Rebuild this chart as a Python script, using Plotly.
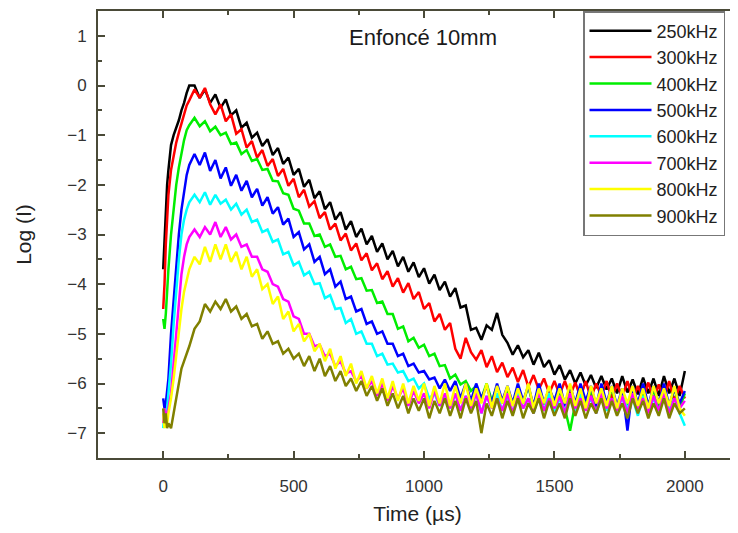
import plotly.graph_objects as go

# Time axis (µs)
T = [0, 5, 10, 15, 20, 30, 40, 50, 60, 70, 80, 90, 100,
     120, 140, 160, 180, 200, 220, 240, 260, 280, 300,
     320, 340, 360, 380, 400, 420, 440, 460, 480, 500,
     520, 540, 560, 580, 600, 620, 640, 660, 680, 700,
     720, 740, 760, 780, 800, 820, 840, 860, 880, 900,
     920, 940, 960, 980, 1000, 1020, 1040, 1060, 1080, 1100,
     1120, 1140, 1160, 1180, 1200, 1220, 1240, 1260, 1280, 1300,
     1320, 1340, 1360, 1380, 1400, 1420, 1440, 1460, 1480, 1500,
     1520, 1540, 1560, 1580, 1600, 1620, 1640, 1660, 1680, 1700,
     1720, 1740, 1760, 1780, 1800, 1820, 1840, 1860, 1880, 1900,
     1920, 1940, 1960, 1980, 2000]

f250 = [-3.7, -3.0, -2.4, -2.0, -1.7, -1.2, -1.0, -0.85, -0.7, -0.5, -0.35, -0.15, 0.0,
        0.0, -0.25, -0.08, -0.35, -0.18, -0.45, -0.28, -0.6, -0.5, -0.85,
        -0.75, -1.05, -0.95, -1.22, -1.08, -1.4, -1.26, -1.58, -1.45, -1.8,
        -1.68, -2.04, -1.9, -2.27, -2.13, -2.49, -2.35, -2.7, -2.55, -2.9,
        -2.73, -3.05, -2.88, -3.2, -3.03, -3.35, -3.18, -3.5, -3.33, -3.64,
        -3.45, -3.75, -3.56, -3.86, -3.68, -3.99, -3.81, -4.12, -3.95, -4.25,
        -4.08, -4.47, -4.43, -4.92, -4.88, -5.12, -4.83, -4.92, -4.58, -5.02,
        -5.18, -5.42, -5.23, -5.47, -5.33, -5.62, -5.38, -5.67, -5.53, -5.82,
        -5.63, -5.92, -5.73, -6.0, -5.78, -6.04, -5.83, -6.09, -5.85, -6.12,
        -5.9, -6.2, -5.85, -6.18, -5.92, -6.22, -5.88, -6.2, -5.9, -6.25,
        -5.85, -6.2, -5.9, -6.25, -5.75]

f300 = [-4.5, -4.0, -3.2, -2.6, -2.2, -1.7, -1.4, -1.15, -0.95, -0.75, -0.55, -0.4, -0.3,
        -0.08, -0.25, -0.05, -0.38, -0.58, -0.38, -0.72, -0.58, -0.97, -0.88,
        -1.25, -1.12, -1.45, -1.3, -1.62, -1.48, -1.82, -1.68, -2.02, -1.88,
        -2.25, -2.1, -2.44, -2.33, -2.67, -2.55, -2.9, -2.78, -3.12, -2.98,
        -3.32, -3.18, -3.52, -3.38, -3.72, -3.58, -3.9, -3.74, -4.05, -3.88,
        -4.17, -3.98, -4.3, -4.16, -4.5, -4.38, -4.75, -4.6, -4.92, -4.78,
        -5.3, -5.5, -5.08, -5.37, -5.52, -5.33, -5.67, -5.45, -5.77, -5.58,
        -5.87, -5.68, -5.97, -5.73, -6.07, -5.83, -6.12, -5.9, -6.2, -5.95,
        -6.22, -5.95, -6.25, -5.98, -6.28, -5.95, -6.3, -6.0, -6.25, -5.95,
        -6.3, -6.0, -6.28, -5.95, -6.32, -6.05, -6.3, -5.98, -6.33, -6.02,
        -6.3, -5.95, -6.35, -6.05, -6.3]

f400 = [-4.7, -4.9, -4.6, -4.1, -3.7, -3.0, -2.45, -2.0, -1.65, -1.35, -1.1, -0.9, -0.8,
        -0.65, -0.82, -0.72, -0.92, -0.83, -1.0, -0.95, -1.18, -1.15, -1.38,
        -1.3, -1.52, -1.48, -1.7, -1.68, -1.92, -1.93, -2.17, -2.2, -2.48,
        -2.52, -2.78, -2.78, -3.03, -3.0, -3.25, -3.2, -3.45, -3.43, -3.7,
        -3.65, -3.9, -3.88, -4.13, -4.12, -4.38, -4.35, -4.6, -4.6, -4.9,
        -4.85, -5.15, -5.08, -5.28, -5.22, -5.45, -5.4, -5.65, -5.63, -5.9,
        -5.82, -6.02, -5.95, -6.15, -6.05, -6.3, -6.0, -6.35, -6.05, -6.4,
        -6.1, -6.45, -6.1, -6.4, -6.05, -6.5, -6.12, -6.42, -6.08, -6.45,
        -6.15, -6.5, -6.95, -6.4, -6.1, -6.45, -6.12, -6.5, -6.15, -6.45,
        -6.1, -6.5, -6.15, -6.45, -6.08, -6.5, -6.15, -6.45, -6.12, -6.5,
        -6.15, -6.45, -6.1, -6.5, -6.2]

f500 = [-6.3, -6.5, -6.4, -6.2, -5.9, -5.0, -4.3, -3.6, -3.0, -2.5, -2.1, -1.8, -1.6,
        -1.38, -1.6, -1.35, -1.72, -1.5, -1.87, -1.65, -2.02, -1.8, -2.12,
        -1.92, -2.25, -2.08, -2.42, -2.25, -2.58, -2.45, -2.8, -2.68, -3.05,
        -2.95, -3.3, -3.2, -3.55, -3.45, -3.8, -3.7, -4.05, -3.95, -4.3,
        -4.25, -4.55, -4.5, -4.8, -4.75, -5.0, -4.95, -5.2, -5.2, -5.45,
        -5.4, -5.65, -5.6, -5.78, -5.75, -5.92, -5.88, -6.1, -5.92, -6.15,
        -5.95, -6.3, -6.0, -6.35, -6.0, -6.3, -6.05, -6.4, -6.0, -6.35,
        -6.05, -6.4, -6.0, -6.35, -6.05, -6.45, -6.0, -6.4, -6.1, -6.35,
        -6.0, -6.45, -6.05, -6.4, -6.0, -6.35, -6.05, -6.45, -6.0, -6.4,
        -6.05, -6.45, -6.1, -6.95, -6.05, -6.4, -6.0, -6.45, -6.05, -6.4,
        -6.0, -6.45, -6.1, -6.4, -6.15]

f600 = [-6.9, -6.6, -6.8, -6.5, -6.3, -5.6, -4.8, -4.1, -3.5, -3.0, -2.7, -2.5, -2.35,
        -2.2, -2.35, -2.15, -2.4, -2.2, -2.38, -2.3, -2.5, -2.38, -2.6,
        -2.5, -2.75, -2.7, -2.95, -2.9, -3.15, -3.1, -3.4, -3.35, -3.62,
        -3.55, -3.82, -3.75, -4.0, -3.98, -4.28, -4.22, -4.5, -4.48, -4.78,
        -4.7, -5.0, -4.95, -5.2, -5.2, -5.45, -5.4, -5.62, -5.6, -5.78,
        -5.75, -5.95, -5.9, -6.1, -6.0, -6.3, -6.2, -6.45, -6.25, -6.5,
        -6.2, -6.55, -6.25, -6.5, -6.2, -6.6, -6.25, -6.5, -6.2, -6.55,
        -6.25, -6.6, -6.2, -6.5, -6.3, -6.6, -6.25, -6.55, -6.2, -6.6,
        -6.3, -6.55, -6.25, -6.6, -6.2, -6.5, -6.3, -6.6, -6.25, -6.55,
        -6.3, -6.6, -6.25, -6.5, -6.3, -6.65, -6.25, -6.55, -6.3, -6.6,
        -6.25, -6.55, -6.3, -6.6, -6.85]

f700 = [-6.8, -6.5, -6.7, -6.6, -6.5, -6.2, -5.6, -4.9, -4.3, -3.8, -3.45, -3.2, -3.05,
        -2.9, -3.05, -2.85, -3.0, -2.75, -3.05, -2.85, -3.1, -3.0, -3.25,
        -3.2, -3.45, -3.45, -3.7, -3.75, -4.0, -4.05, -4.3, -4.35, -4.65,
        -4.7, -5.0, -5.0, -5.25, -5.22, -5.45, -5.4, -5.65, -5.55, -5.8,
        -5.75, -5.95, -5.85, -6.1, -5.95, -6.25, -6.0, -6.35, -6.05, -6.3,
        -6.1, -6.45, -6.15, -6.4, -6.2, -6.5, -6.15, -6.45, -6.2, -6.5,
        -6.2, -6.55, -6.25, -6.5, -6.2, -6.6, -6.25, -6.5, -6.3, -6.55,
        -6.2, -6.6, -6.25, -6.5, -6.3, -6.6, -6.2, -6.55, -6.3, -6.5,
        -6.25, -6.6, -6.2, -6.5, -6.3, -6.55, -6.25, -6.6, -6.2, -6.5,
        -6.3, -6.55, -6.25, -6.6, -6.2, -6.5, -6.3, -6.6, -6.25, -6.55,
        -6.2, -6.6, -6.3, -6.5, -6.35]

f800 = [-6.6, -6.9, -6.7, -6.8, -6.6, -6.3, -5.9, -5.4, -4.9, -4.5, -4.15, -3.9, -3.7,
        -3.45, -3.6, -3.25, -3.55, -3.2, -3.5, -3.2, -3.55, -3.35, -3.7,
        -3.45, -3.85, -3.7, -4.1, -4.0, -4.4, -4.25, -4.7, -4.55, -4.95,
        -4.8, -5.15, -5.0, -5.35, -5.2, -5.55, -5.3, -5.7, -5.45, -5.85,
        -5.6, -6.0, -5.75, -6.1, -5.85, -6.2, -5.9, -6.3, -5.95, -6.35,
        -6.0, -6.4, -6.05, -6.35, -6.0, -6.45, -6.05, -6.4, -6.0, -6.45,
        -6.05, -6.4, -6.0, -6.45, -6.1, -6.4, -6.0, -6.5, -6.05, -6.4,
        -6.05, -6.45, -6.1, -6.4, -6.0, -6.5, -6.1, -6.4, -6.05, -6.45,
        -6.1, -6.4, -6.0, -6.45, -6.1, -6.5, -6.05, -6.4, -6.1, -6.45,
        -6.05, -6.5, -6.1, -6.4, -6.05, -6.45, -6.1, -6.5, -6.05, -6.4,
        -6.1, -6.45, -6.05, -6.5, -6.65]

f900 = [-6.5, -6.8, -6.6, -6.9, -6.8, -6.9, -6.6, -6.3, -6.0, -5.7, -5.55, -5.4, -5.25,
        -4.9, -4.75, -4.4, -4.55, -4.35, -4.5, -4.3, -4.55, -4.45, -4.7,
        -4.6, -4.85, -4.8, -5.1, -4.95, -5.2, -5.15, -5.4, -5.3, -5.5,
        -5.4, -5.65, -5.45, -5.75, -5.5, -5.85, -5.65, -5.95, -5.75, -6.05,
        -5.9, -6.15, -5.95, -6.25, -6.05, -6.35, -6.1, -6.45, -6.2, -6.5,
        -6.25, -6.6, -6.3, -6.55, -6.3, -6.7, -6.35, -6.6, -6.3, -6.65,
        -6.35, -6.7, -6.3, -6.6, -6.35, -7.0, -6.4, -6.65, -6.3, -6.7,
        -6.35, -6.65, -6.3, -6.7, -6.4, -6.6, -6.3, -6.7, -6.35, -6.65,
        -6.4, -6.7, -6.3, -6.65, -6.35, -6.7, -6.4, -6.6, -6.3, -6.7,
        -6.35, -6.65, -6.4, -6.7, -6.3, -6.6, -6.35, -6.7, -6.4, -6.65,
        -6.3, -6.7, -6.4, -6.6, -6.5]

NAMES = ["250kHz", "300kHz", "400kHz", "500kHz", "600kHz", "700kHz", "800kHz", "900kHz"]
SERIES = [f250, f300, f400, f500, f600, f700, f800, f900]
COLORS = ["#000000", "#ff0000", "#00ee00", "#0000ff", "#00ffff", "#ff00ff", "#ffff00", "#808000"]

FONT = "Liberation Sans, Arial, sans-serif"
AXC = "#4a4a38"

fig = go.Figure()
for name, ys, col in zip(NAMES, SERIES, COLORS):
    fig.add_trace(go.Scatter(x=T, y=ys, mode="lines", name=name,
                             line=dict(color=col, width=2.5)))

axis_common = dict(showgrid=False, zeroline=False, showline=True, linecolor=AXC, linewidth=2,
                   mirror="allticks", ticks="inside", ticklen=7, tickwidth=2, tickcolor=AXC,
                   tickfont=dict(family=FONT, size=17, color="#333333"))

fig.update_xaxes(range=[-250, 2200], tickvals=[0, 500, 1000, 1500, 2000],
                 minor=dict(ticks="inside", ticklen=4, tickwidth=2, tickcolor=AXC, dtick=250, tick0=0),
                 ticklabelstandoff=12,
                 title=dict(text="Time (µs)", font=dict(family=FONT, size=21, color="#222222"), standoff=12),
                 **axis_common)
fig.update_yaxes(range=[-7.5, 1.5], tickvals=[-7, -6, -5, -4, -3, -2, -1, 0, 1],
                 minor=dict(ticks="inside", ticklen=4, tickwidth=2, tickcolor=AXC, dtick=0.5, tick0=0),
                 ticklabelstandoff=6,
                 title=dict(text="Log (I)", font=dict(family=FONT, size=21, color="#222222"), standoff=30),
                 **axis_common)

fig.add_annotation(text="Enfoncé 10mm", xref="paper", yref="paper", x=0.508, y=0.94,
                   xanchor="center", yanchor="middle",
                   showarrow=False, font=dict(family=FONT, size=22, color="#1a1a1a"))

# page body has an 8px margin: size the figure so the page fits the 738x533 window
fig.update_layout(
    width=729, height=517,
    margin=dict(l=90, r=0, t=3, b=67, autoexpand=False),
    plot_bgcolor="white", paper_bgcolor="white",
    legend=dict(x=0.759, y=1.0, xanchor="left", yanchor="top",
                bordercolor="#777777", borderwidth=1.5, bgcolor="white",
                font=dict(family=FONT, size=18, color="#222222"),
                itemwidth=62, traceorder="normal"),
    showlegend=True,
)

fig.write_html("out.html")
